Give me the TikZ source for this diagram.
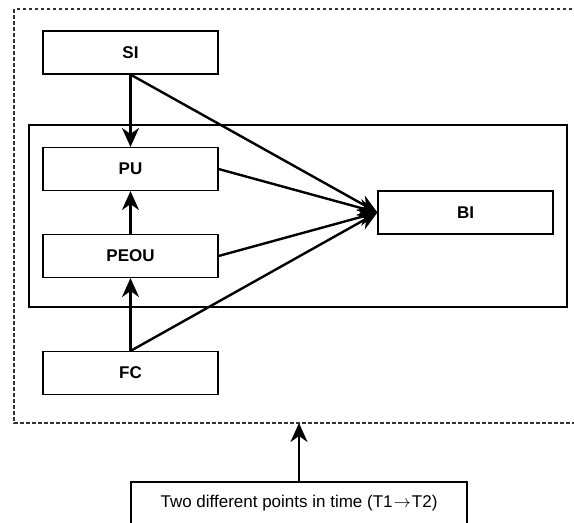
\documentclass[tikz,border=0pt]{standalone}
\usepackage{fontspec}
\setmainfont{Liberation Sans}
\usetikzlibrary{arrows.meta}
\begin{document}
\begin{tikzpicture}[x=1pt,y=-1pt,
  var/.style={draw, line width=1.1pt, minimum width=175pt, minimum height=43pt,
    inner sep=0pt, font=\bfseries\fontsize{17}{20}\selectfont},
  link/.style={line width=2.4pt, -{Stealth[length=19pt,width=17pt,inset=6pt]}}]
\useasboundingbox (0,0) rectangle (574,523);
% outer dashed frame (right side runs past the page)
\draw[line width=1.1pt, dash pattern=on 3.5pt off 2.5pt, black!80] (14,9) rectangle (590,423);
% inner frame around the mediators and outcome
\draw[line width=1.1pt] (29,125) rectangle (567,307);
% constructs
\node[var] (si)   at (130.5,52.5)  {SI};
\node[var] (pu)   at (130.5,169)   {PU};
\node[var] (peou) at (130.5,256)   {PEOU};
\node[var] (fc)   at (130.5,373)   {FC};
\node[var] (bi)   at (465.5,212.5) {BI};
% time box
\node[draw, line width=1.1pt, minimum width=336pt, minimum height=43pt, inner sep=0pt,
  font=\fontsize{17}{20}\selectfont] (time) at (299,503.5)
  {Two different points in time (T1{\kern1pt}$\rightarrow${\kern1pt}T2)};
\coordinate (frame) at (299,423);
% paths
\draw[link] (si.south) -- (pu.north);
\draw[link] (si.south) -- (bi.west);
\draw[link] (pu.east) -- (bi.west);
\draw[link] (peou.east) -- (bi.west);
\draw[link] (fc.north) -- (bi.west);
\draw[link] (fc.north) -- (peou.south);
\draw[link] (peou.north) -- (pu.south);
\draw[link] (time.north) -- (frame);
\end{tikzpicture}
\end{document}
